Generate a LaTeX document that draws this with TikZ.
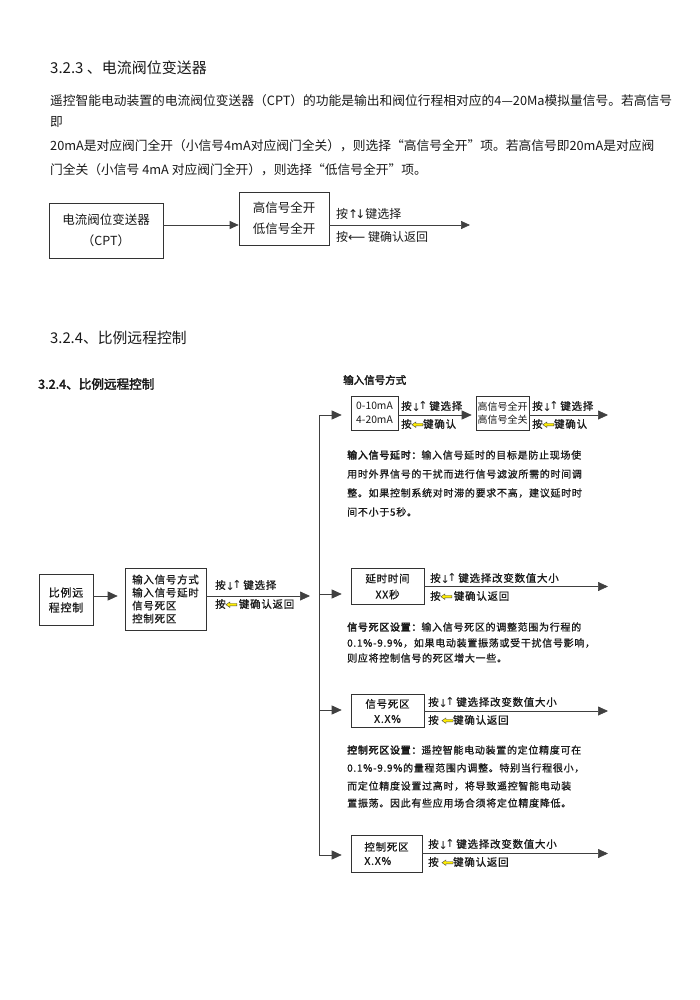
\documentclass[tikz,border=0pt]{standalone}
\usepackage{fontspec}
\setmainfont{Noto Sans CJK SC}
\newfontfamily\cjkbf[FakeBold=2.5]{Noto Sans CJK SC}
\newfontfamily\cjksp[LetterSpace=7,FakeBold=0.8]{Noto Sans CJK SC}
\newfontfamily\cjkspbf[LetterSpace=7,FakeBold=2.8]{Noto Sans CJK SC}
\newfontfamily\symf{DejaVu Sans}
\usetikzlibrary{arrows.meta}
\newcommand{\yarr}{\tikz[baseline=-3.3pt]{\draw[fill=yellow!95!orange,draw=black!70,line width=0.4pt,line join=miter] (0pt,0pt) -- (4pt,2.8pt) -- (4pt,1.2pt) -- (11pt,1.2pt) -- (11pt,-1.2pt) -- (4pt,-1.2pt) -- (4pt,-2.8pt) -- cycle;}}
\newcommand{\du}{{\symf\fontsize{11}{11}\selectfont\raisebox{-1pt}{↓}\kern-2.5pt\raisebox{1pt}{↑}}}
\begin{document}
\begin{tikzpicture}[x=1pt,y=-1pt,
  box/.style={draw=black!80, line width=0.6pt, inner sep=0pt, align=center, text=black!90},
  lbl/.style={anchor=west, inner sep=0pt, text=black!90},
  toptxt/.style={anchor=west, inner sep=0pt, text=black!90, font=\fontsize{12.75}{12.75}\selectfont},
  lowtxt/.style={anchor=west, inner sep=0pt, text=black!90, font=\cjksp\fontsize{10}{10}\selectfont},
  lowlbl/.style={anchor=west, inner sep=0pt, text=black!90, font=\cjksp\fontsize{10.5}{10.5}\selectfont},
  con/.style={draw=black!75, line width=0.7pt},
  arr/.style={con, -{Triangle[length=9pt,width=8pt]}},
  arrb/.style={con, -{Triangle[length=10pt,width=9pt]}}]
\fill[white] (0,0) rectangle (700,1000);
\useasboundingbox (0,0) rectangle (700,1000);

% ---------- 3.2.3 ----------
\node[anchor=west, inner sep=0pt, text=black!90, font=\fontsize{15}{15}\selectfont] (t1) at (50,68) {3.2.3 、电流阀位变送器};
\node[toptxt] (p1) at (50,101) {遥控智能电动装置的电流阀位变送器（CPT）的功能是输出和阀位行程相对应的4—20Ma模拟量信号。若高信号};
\node[toptxt] (p2) at (50,122) {即};
\node[toptxt] (p3) at (50,146) {20mA是对应阀门全开（小信号4mA对应阀门全关），则选择“高信号全开”项。若高信号即20mA是对应阀};
\node[toptxt] (p4) at (50,170) {门全关（小信号 4mA 对应阀门全开），则选择“低信号全开”项。};

\node[box, minimum width=114, minimum height=55, font=\fontsize{12.5}{21}\selectfont] (cpt) at (106,230.5) {电流阀位变送器\\（CPT）};
\node[box, minimum width=90, minimum height=53, font=\fontsize{12.5}{21}\selectfont] (hi) at (284,218.5) {高信号全开\\低信号全开};
\coordinate (c1) at ([yshift=5.5pt]cpt.east);
\coordinate (c2) at (c1 -| hi.west);
\coordinate (c3) at (c1 -| hi.east);
\coordinate (e1) at (470,225);
\draw[arr] (c1) -- (c2);
\draw[arr] (c3) -- (e1);
\node[lbl, font=\fontsize{12}{12}\selectfont] (l1) at (336,214) {按{\symf\fontsize{12}{12}\selectfont ↑\kern-3pt↓}键选择};
\node[lbl, font=\fontsize{12}{12}\selectfont] (l2) at (336,237) {按{\symf\fontsize{12}{12}\selectfont ⟵} 键确认返回};

% ---------- 3.2.4 ----------
\node[anchor=west, inner sep=0pt, text=black!90, font=\fontsize{14.8}{14.8}\selectfont] (t2) at (50,338) {3.2.4、比例远程控制};
\node[anchor=west, inner sep=0pt, text=black!90, font=\cjkbf\fontsize{12.6}{12.6}\selectfont] (t3) at (38,384) {3.2.4、比例远程控制};
\node[anchor=west, inner sep=0pt, text=black!90, font=\cjkbf\fontsize{10.5}{10.5}\selectfont] (t4) at (343,380) {输入信号方式};

\node[box, minimum width=54, minimum height=51, font=\cjksp\fontsize{11}{15}\selectfont] (b1) at (66,600) {比例远\\程控制};
\node[box, minimum width=81, minimum height=62, align=left, font=\cjksp\fontsize{10.5}{13}\selectfont] (b2) at (165.5,599) {输入信号方式\\输入信号延时\\信号死区\\控制死区};
\coordinate (m0) at ([yshift=4pt]b1.east);
\draw[arrb, shorten >=7pt] (m0) -- (m0 -| b2.west);
\coordinate (m1) at (m0 -| b2.east);
\coordinate (vm) at (319,596);
\draw[arrb, shorten >=9pt] (m1) -- (vm);
\node[lowlbl] (lm1) at (215,585) {按\du\,键选择};
\node[lowlbl] (lm2) at (215,604) {按\yarr\,键确认返回};

% vertical bus
\coordinate (vt) at (319,415);
\coordinate (v2) at (319,594);
\coordinate (v3) at (319,710);
\coordinate (vb) at (319,855);
\draw[con] (vt) -- (vb);

% branch 1
\node[box, minimum width=47, minimum height=34, align=left, font=\fontsize{10.3}{14}\selectfont] (bA) at (374.5,413) {0-10mA\\4-20mA};
\node[box, minimum width=53, minimum height=34, font=\fontsize{10}{13}\selectfont] (bB) at (502.5,413) {高信号全开\\高信号全关};
\draw[arrb, shorten >=9pt] (vt) -- (vt -| bA.west);
\coordinate (a1) at (bA.east |- vt);
\coordinate (a2) at (bB.west |- vt);
\draw[arrb, shorten >=4pt] (a1) -- (a2);
\coordinate (a3) at (bB.east |- vt);
\coordinate (e2) at (608,415);
\draw[arrb] (a3) -- (e2);
\node[lowlbl] (la1) at (401,406) {按\du\,键选择};
\node[lowlbl] (la2) at (401,424) {按\yarr 键确认};
\node[lowlbl] (lb1) at (532,406) {按\du\,键选择};
\node[lowlbl] (lb2) at (532,424) {按\yarr 键确认};

\node[lowtxt] (q1) at (347,455) {{\cjkspbf 输入信号延时：}输入信号延时的目标是防止现场使};
\node[lowtxt] (q2) at (347,474) {用时外界信号的干扰而进行信号滤波所需的时间调};
\node[lowtxt] (q3) at (347,493) {整。如果控制系统对时滞的要求不高，建议延时时};
\node[lowtxt] (q4) at (347,512) {间不小于5秒。};

% branch 2
\node[box, minimum width=73, minimum height=36, font=\cjksp\fontsize{10.5}{16}\selectfont] (bC) at (387.5,586.5) {延时时间\\XX秒};
\draw[arrb, shorten >=9pt] (v2) -- (v2 -| bC.west);
\coordinate (e3) at (608,586.5);
\draw[arrb] (bC.east) -- (e3);
\node[lowlbl] (lc1) at (430,578) {按\du\,键选择改变数值大小};
\node[lowlbl] (lc2) at (430,596) {按\yarr\,键确认返回};

\node[lowtxt] (r1) at (347,627) {{\cjkspbf 信号死区设置：}输入信号死区的调整范围为行程的};
\node[lowtxt] (r2) at (347,643) {0.1\%-9.9\%，如果电动装置振荡或受干扰信号影响，};
\node[lowtxt] (r3) at (347,658) {则应将控制信号的死区增大一些。};

% branch 3
\node[box, minimum width=73, minimum height=33, font=\cjksp\fontsize{10.5}{15}\selectfont] (bD) at (387.5,711) {信号死区\\X.X\%};
\draw[arrb, shorten >=9pt] (v3) -- (v3 -| bD.west);
\coordinate (e4) at (608,711);
\draw[arrb] (bD.east) -- (e4);
\node[lowlbl] (ld1) at (428,702) {按\du\,键选择改变数值大小};
\node[lowlbl] (ld2) at (428,720) {按 \yarr 键确认返回};

\node[lowtxt] (s1) at (347,750) {{\cjkspbf 控制死区设置：}遥控智能电动装置的定位精度可在};
\node[lowtxt] (s2) at (347,768) {0.1\%-9.9\%的量程范围内调整。特别当行程很小，};
\node[lowtxt] (s3) at (347,786) {而定位精度设置过高时，将导致遥控智能电动装};
\node[lowtxt] (s4) at (347,803) {置振荡。因此有些应用场合须将定位精度降低。};

% branch 4
\node[box, minimum width=71, minimum height=37, align=left, font=\cjksp\fontsize{10.5}{14}\selectfont] (bE) at (386.5,853.5) {控制死区\\X.X\%};
\draw[arrb, shorten >=9pt] (vb) -- (vb -| bE.west);
\coordinate (e5) at (608,853.5);
\draw[arrb] (bE.east) -- (e5);
\node[lowlbl] (le1) at (428,844) {按\du\,键选择改变数值大小};
\node[lowlbl] (le2) at (428,862) {按 \yarr 键确认返回};
\end{tikzpicture}
\end{document}
